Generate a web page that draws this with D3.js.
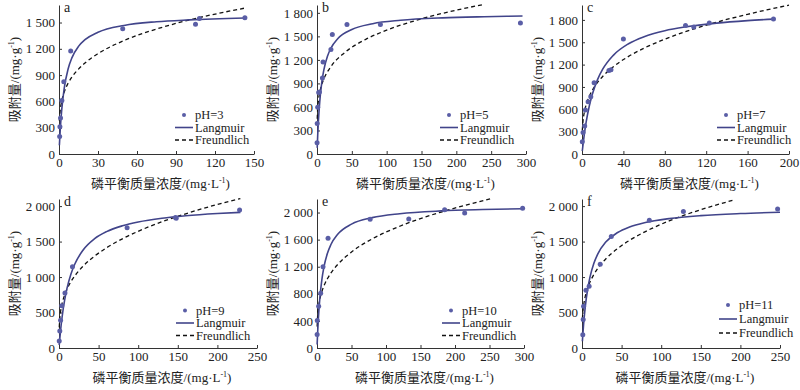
<!DOCTYPE html>
<html>
<head>
<meta charset="utf-8">
<script src="https://cdn.jsdelivr.net/npm/d3@7/dist/d3.min.js"></script>
<style>
  body { margin: 0; background: #fff; }
  svg { display: block; }
  text { font-family: "Liberation Serif", "Noto Sans CJK SC", serif; fill: #222; }
  .tick text { font-size: 13px; }
  .domain, .tick line { stroke: #333; }
</style>
</head>
<body>
<div id="chart"></div>
<script>
// panel letters, legend labels, axis ticks
var letters = ["a", "b", "c", "d", "e", "f"];
var phLabels = ["pH=3", "pH=5", "pH=7", "pH=9", "pH=10", "pH=11"];
var xTicks = [[0, 30, 60, 90, 120, 150], [0, 50, 100, 150, 200, 250, 300], [0, 40, 80, 120, 160, 200],
              [0, 50, 100, 150, 200, 250], [0, 50, 100, 150, 200, 250, 300], [0, 50, 100, 150, 200, 250]];
var yTicks = [[0, 300, 600, 900, 1200, 1500], [0, 300, 600, 900, 1200, 1500, 1800], [0, 300, 600, 900, 1200, 1500, 1800],
              [0, 500, 1000, 1500, 2000], [0, 400, 800, 1200, 1600, 2000], [0, 500, 1000, 1500, 2000]];
var yMax = [1700, 1900, 2000, 2100, 2200, 2100];

// measured points (Ce, qe)
var obsC_a = [0.5, 0.7, 1.2, 2.2, 3.7, 9, 49, 105, 108, 143];
var obsQ_a = [200, 310, 410, 610, 825, 1175, 1430, 1480, 1545, 1555];
var obsC_b = [0.1, 0.3, 1, 2.4, 3.5, 7.8, 8.7, 20, 22, 43, 91, 292];
var obsQ_b = [145, 390, 597, 785, 790, 968, 1173, 1331, 1523, 1651, 1651, 1672];
var obsC_c = [0.3, 1, 2.6, 3.3, 5.9, 8.5, 11.7, 26, 28, 40, 100, 108, 123, 185];
var obsQ_c = [166, 287, 376, 591, 703, 770, 958, 1120, 1130, 1545, 1725, 1705, 1760, 1812];
var obsC_d = [0.3, 1, 2, 3.5, 7.5, 17, 86, 147, 148, 228];
var obsQ_d = [100, 240, 390, 595, 775, 1145, 1695, 1840, 1828, 1945];
var obsC_e = [0.2, 0.4, 2.4, 5.3, 8.7, 16, 77, 133, 185, 214, 298];
var obsQ_e = [200, 405, 615, 810, 1200, 1620, 1900, 1905, 2040, 1995, 2065];
var obsC_f = [1, 1.5, 2, 5, 9, 23, 37, 85, 128, 247];
var obsQ_f = [188, 400, 590, 815, 870, 1180, 1570, 1800, 1925, 1960];

// Langmuir curves
var langC_a = [0.3, 1, 2, 4, 7, 10, 15, 20, 30, 50, 75, 100, 143];
var langQ_a = [99, 289, 489, 749, 970, 1100, 1228, 1304, 1389, 1467, 1509, 1530, 1551];
var langC_b = [0.3, 1, 2, 4, 7, 10, 15, 20, 30, 50, 80, 120, 180, 240, 295];
var langQ_b = [78, 235, 415, 675, 922, 1080, 1246, 1350, 1473, 1588, 1662, 1705, 1736, 1751, 1760];
var langC_c = [0.3, 1, 2, 4, 7, 10, 15, 20, 30, 45, 60, 80, 100, 130, 160, 185];
var langQ_c = [40, 127, 240, 427, 641, 803, 999, 1138, 1321, 1480, 1575, 1655, 1706, 1757, 1790, 1810];
var langC_d = [0.3, 1, 2, 4, 7, 10, 15, 20, 30, 45, 60, 80, 100, 130, 160, 200, 229];
var langQ_d = [42, 133, 249, 444, 668, 836, 1040, 1184, 1375, 1541, 1640, 1722, 1776, 1829, 1864, 1895, 1911];
var langC_e = [0.2, 1, 2, 4, 7, 10, 15, 20, 30, 50, 80, 120, 180, 240, 298];
var langQ_e = [53, 243, 435, 722, 1005, 1193, 1395, 1524, 1679, 1829, 1925, 1983, 2024, 2044, 2057];
var langC_f = [0.5, 1, 2, 4, 7, 10, 15, 20, 30, 45, 60, 80, 110, 150, 200, 250];
var langQ_f = [95, 181, 332, 569, 819, 995, 1194, 1327, 1493, 1628, 1706, 1769, 1824, 1866, 1895, 1913];

// Freundlich curves
var freuC_a = [0.3, 1, 2, 4, 7, 10, 15, 20, 30, 50, 75, 100, 143];
var freuQ_a = [379, 506, 598, 706, 807, 879, 969, 1039, 1145, 1294, 1426, 1528, 1665];
var freuC_b = [0.3, 1, 2, 5, 10, 20, 40, 70, 100, 150, 200, 240];
var freuQ_b = [450, 584, 678, 827, 960, 1115, 1295, 1462, 1579, 1724, 1834, 1908];
var freuC_c = [0.3, 1, 2, 4, 7, 10, 15, 20, 30, 45, 60, 80, 100, 130, 160, 200];
var freuQ_c = [317, 446, 543, 660, 774, 856, 960, 1041, 1168, 1310, 1421, 1541, 1642, 1769, 1875, 1998];
var freuC_d = [0.3, 1, 2, 4, 7, 10, 15, 20, 30, 45, 60, 80, 100, 130, 160, 200, 229];
var freuQ_d = [291, 416, 512, 629, 744, 827, 934, 1017, 1148, 1296, 1412, 1539, 1645, 1779, 1892, 2023, 2106];
var freuC_e = [0.2, 1, 2, 4, 7, 10, 15, 20, 30, 50, 80, 120, 180, 220, 255];
var freuQ_e = [316, 489, 590, 713, 830, 915, 1022, 1105, 1233, 1417, 1611, 1798, 2008, 2120, 2211];
var freuC_f = [0.5, 1, 2, 4, 7, 10, 15, 20, 30, 45, 60, 80, 110, 150, 191];
var freuQ_f = [409, 494, 597, 722, 842, 928, 1037, 1123, 1255, 1402, 1517, 1641, 1791, 1950, 2083];

var obsC = [obsC_a, obsC_b, obsC_c, obsC_d, obsC_e, obsC_f];
var obsQ = [obsQ_a, obsQ_b, obsQ_c, obsQ_d, obsQ_e, obsQ_f];
var langC = [langC_a, langC_b, langC_c, langC_d, langC_e, langC_f];
var langQ = [langQ_a, langQ_b, langQ_c, langQ_d, langQ_e, langQ_f];
var freuC = [freuC_a, freuC_b, freuC_c, freuC_d, freuC_e, freuC_f];
var freuQ = [freuQ_a, freuQ_b, freuQ_c, freuQ_d, freuQ_e, freuQ_f];

// where each panel sits on the page
var layout = [
  {x0: 59,  x1: 254, y0: 154, y1: 5,   lx: 195, ly: [115, 127.5, 140]},
  {x0: 317, x1: 526, y0: 154, y1: 5,   lx: 460, ly: [115, 127.5, 140]},
  {x0: 582, x1: 789, y0: 154, y1: 5,   lx: 737, ly: [115, 127.5, 140]},
  {x0: 59,  x1: 257, y0: 348, y1: 199, lx: 196, ly: [310.5, 323, 335.5]},
  {x0: 317, x1: 524, y0: 348, y1: 199, lx: 462, ly: [310.5, 323, 335.5]},
  {x0: 582, x1: 780, y0: 348, y1: 199, lx: 739, ly: [305, 319, 333]}
];

var langColor = "#41448a", dotColor = "#5a5ea6";

var svg = d3.select("#chart").append("svg")
    .attr("width", 800)
    .attr("height", 390);
svg.append("rect").attr("width", 800).attr("height", 390).attr("fill", "#fff");

function fmt(d) {
  return d >= 1000 ? Math.floor(d / 1000) + " " + d3.format("03d")(d % 1000) : String(d);
}

layout.forEach(function(p, i) {
  var x = d3.scaleLinear().domain([0, d3.max(xTicks[i])]).range([p.x0, p.x1]);
  var y = d3.scaleLinear().domain([0, yMax[i]]).range([p.y0, p.y1]);

  svg.append("g")
      .attr("transform", "translate(0," + p.y0 + ")")
      .call(d3.axisBottom(x).tickValues(xTicks[i]).tickSizeInner(-3).tickSizeOuter(0).tickPadding(4));

  svg.append("g")
      .attr("transform", "translate(" + p.x0 + ",0)")
      .call(d3.axisLeft(y).tickValues(yTicks[i]).tickFormat(fmt).tickSizeInner(-3).tickSizeOuter(0).tickPadding(4));

  svg.append("text")
      .attr("x", p.x0 + 5)
      .attr("y", p.y1 + 7)
      .style("font-size", "14px")
      .text(letters[i]);

  var freu = freuC[i].map(function(c, k) { return [c, freuQ[i][k]]; });
  var lang = langC[i].map(function(c, k) { return [c, langQ[i][k]]; });
  var line = d3.line()
      .x(function(d) { return x(d[0]); })
      .y(function(d) { return y(d[1]); })
      .curve(d3.curveMonotoneX);

  svg.append("path")
      .attr("d", line(freu))
      .attr("fill", "none")
      .attr("stroke", "#111")
      .attr("stroke-width", 1.3)
      .attr("stroke-dasharray", "4,3");

  svg.append("path")
      .attr("d", line(lang))
      .attr("fill", "none")
      .attr("stroke", langColor)
      .attr("stroke-width", 1.6);

  svg.selectAll(".dot" + i)
      .data(obsC[i].map(function(c, k) { return [c, obsQ[i][k]]; }))
    .enter().append("circle")
      .attr("cx", function(d) { return x(d[0]); })
      .attr("cy", function(d) { return y(d[1]); })
      .attr("r", 2.5)
      .attr("fill", dotColor);

  // legend
  var lg = svg.append("g");
  lg.append("circle").attr("cx", p.lx - 11).attr("cy", p.ly[0]).attr("r", 2).attr("fill", dotColor);
  lg.append("line").attr("x1", p.lx - 20).attr("x2", p.lx - 2).attr("y1", p.ly[1]).attr("y2", p.ly[1])
      .attr("stroke", langColor).attr("stroke-width", 1.6);
  lg.append("line").attr("x1", p.lx - 20).attr("x2", p.lx - 2).attr("y1", p.ly[2]).attr("y2", p.ly[2])
      .attr("stroke", "#111").attr("stroke-width", 1.3).attr("stroke-dasharray", "4,3");
  [phLabels[i], "Langmuir", "Freundlich"].forEach(function(t, k) {
    lg.append("text").attr("x", p.lx).attr("y", p.ly[k]).attr("dy", "0.35em")
        .style("font-size", "12.5px").text(t);
  });

  // axis titles
  var xt = svg.append("text")
      .attr("x", (p.x0 + p.x1) / 2 + 4)
      .attr("y", p.y0 + 34)
      .attr("text-anchor", "middle")
      .style("font-size", "13px");
  xt.append("tspan").text("磷平衡质量浓度/(mg·L");
  xt.append("tspan").attr("dy", -5).style("font-size", "8px").text("-1");
  xt.append("tspan").attr("dy", 5).text(")");

  var yc = (p.y0 + p.y1) / 2;
  var yt = svg.append("text")
      .attr("transform", "translate(" + (p.x0 - 45) + "," + yc + ") rotate(-90)")
      .attr("text-anchor", "middle")
      .attr("dy", "0.35em")
      .style("font-size", "13px");
  yt.append("tspan").text("吸附量/(mg·g");
  yt.append("tspan").attr("dy", -5).style("font-size", "8px").text("-1");
  yt.append("tspan").attr("dy", 5).text(")");
});
</script>
</body>
</html>
